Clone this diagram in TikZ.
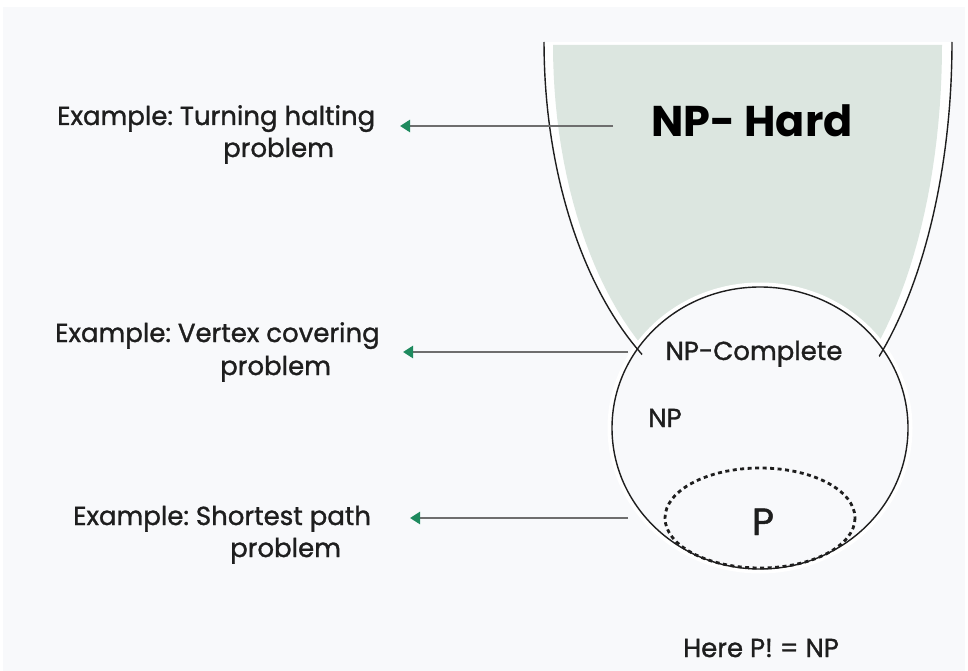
\documentclass[tikz,border=0pt]{standalone}
\usepackage{fontspec}
\setmainfont{Poppins}
\newfontfamily\medfont{Poppins}[FakeBold=1.2]
\usetikzlibrary{arrows.meta}
\definecolor{bgc}{HTML}{F8F9FB}
\definecolor{hardgreen}{HTML}{DCE6E0}
\definecolor{tipgreen}{HTML}{1E8A5E}
\definecolor{linegray}{HTML}{6E6E6E}
\definecolor{ink}{HTML}{1E1E1E}
\frenchspacing
\begin{document}
\begin{tikzpicture}[x=1pt,y=-1pt,
  outline/.style={draw=ink, line width=1.4pt},
  conn/.style={draw=linegray, line width=2.8pt, -{Triangle[length=10pt,width=12pt,color=tipgreen]}},
  lab/.style={font=\medfont\fontsize{26}{30}\selectfont, text=ink, anchor=base west, inner sep=0pt},
  setlab/.style={font=\medfont\fontsize{26}{30}\selectfont, text=ink, anchor=base, inner sep=0pt}]
\useasboundingbox (0,0) rectangle (968,671);
\fill[white] (0,0) rectangle (968,671);
\fill[bgc] (3,7) rectangle (965,671);
% NP-hard region
\fill[white] plot[domain=0:90,samples=40] ({760-216*cos(\x)},{42+373*sin(\x)})
  -- plot[domain=90:0,samples=40] ({760+192*cos(\x)},{42+401*sin(\x)}) -- cycle;
\fill[hardgreen] plot[domain=0:90,samples=40] ({760-207*cos(\x)},{45+366*sin(\x)})
  -- plot[domain=90:0,samples=40] ({760+182*cos(\x)},{45+392*sin(\x)}) -- cycle;
% NP circle halo and fill
\draw[white, line width=9pt] (760,428) ellipse [x radius=148, y radius=141];
\fill[bgc] (760,428) ellipse [x radius=148, y radius=141];
% NP-hard outline, kept outside the circle but for short ends
\begin{scope}[even odd rule]
  \clip (0,0) rectangle (968,671) (760,428) ellipse [x radius=141, y radius=134];
  \draw[outline] plot[domain=0:90,samples=60] ({760-216*cos(\x)},{42+373*sin(\x)});
  \draw[outline] plot[domain=0:90,samples=60] ({760+192*cos(\x)},{42+401*sin(\x)});
\end{scope}
\draw[outline] (760,428) ellipse [x radius=148, y radius=141];
% P
\draw[ink, line width=2.8pt, dash pattern=on 4pt off 3.5pt] (760,518) ellipse [x radius=95, y radius=50];
% texts
\node[font=\fontsize{43}{50}\selectfont\bfseries, text=black, anchor=base, inner sep=0pt] (hard) at (752,137) {NP- Hard};
\node[setlab] (npc) at (754,360) {NP-Complete};
\node[setlab] (np) at (665,427) {NP};
\node[font=\medfont\fontsize{38}{42}\selectfont, text=ink, anchor=base, inner sep=0pt] (p) at (763,535) {P};
\node[setlab] (here) at (761,657) {Here P! = NP};
\node[lab] (ex1) at (57,125) {Example: Turning halting};
\node[lab] (ex1b) at (223,157) {problem};
\node[lab] (ex2) at (55,342) {Example: Vertex covering};
\node[lab] (ex2b) at (220,375) {problem};
\node[lab] (ex3) at (73,525) {Example: Shortest path};
\node[lab] (ex3b) at (230,557) {problem};
% connectors
\coordinate (s1) at (613,126); \coordinate (t1) at (400,126);
\coordinate (s2) at (628,352); \coordinate (t2) at (403,352);
\coordinate (s3) at (628,518); \coordinate (t3) at (410,518);
\draw[conn] (s1) -- (t1);
\draw[conn] (s2) -- (t2);
\draw[conn] (s3) -- (t3);
\end{tikzpicture}
\end{document}
